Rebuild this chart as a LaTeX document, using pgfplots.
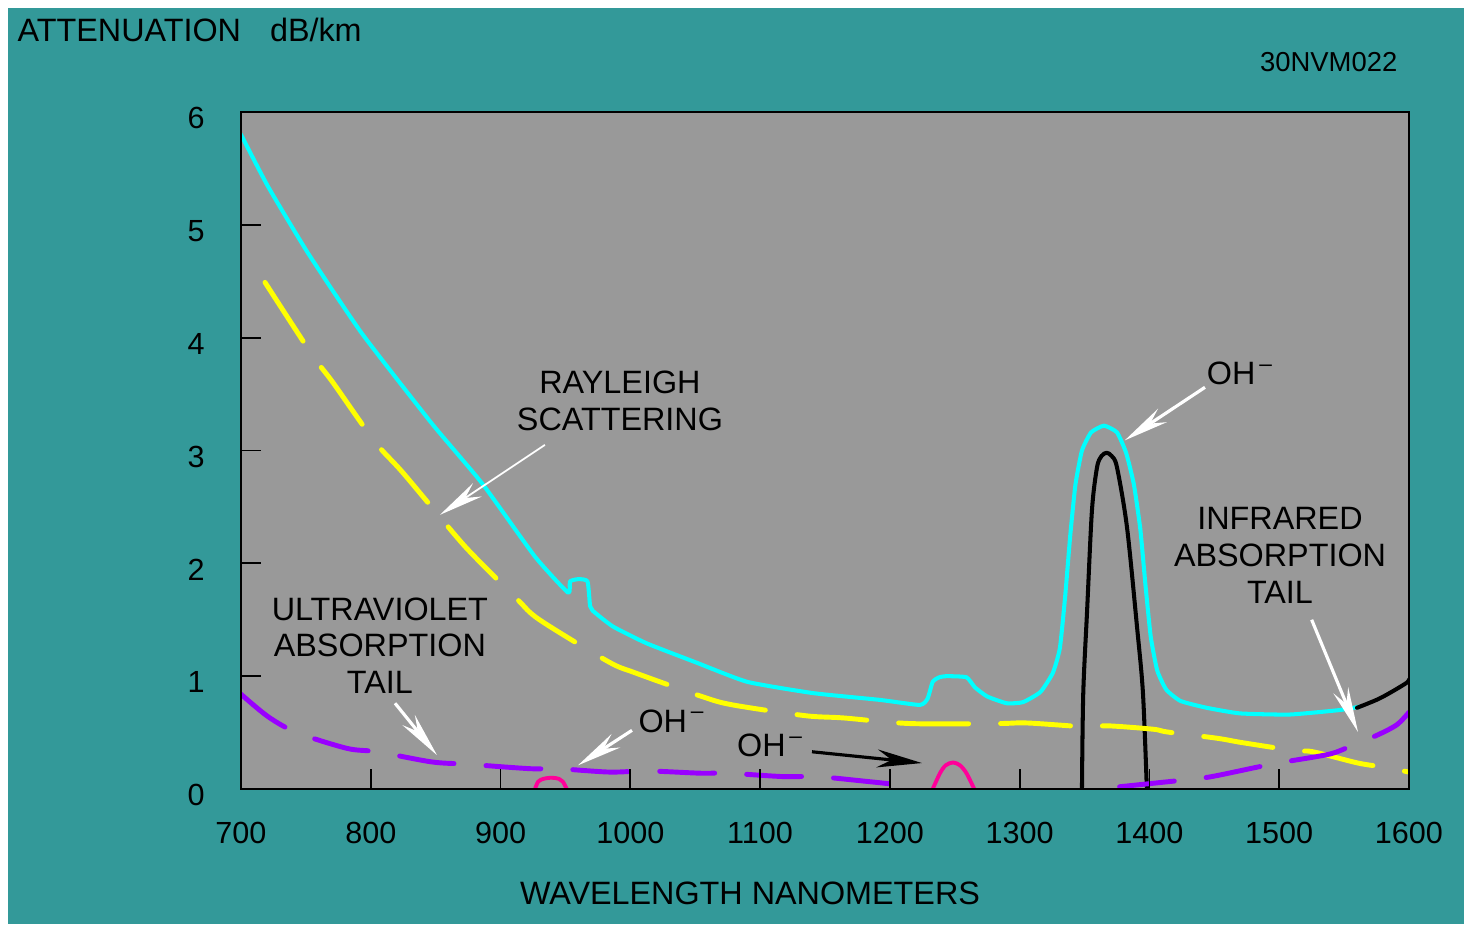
\documentclass[border=0pt]{standalone}
\usepackage{pgfplots}
\pgfplotsset{compat=1.18}
\usepackage{fontspec}
\setmainfont{Liberation Sans}
\usetikzlibrary{arrows.meta}
\definecolor{bgteal}{HTML}{339999}
\definecolor{plotgray}{HTML}{999999}
\definecolor{cyanl}{HTML}{00FFFF}
\definecolor{yell}{HTML}{FFFF00}
\definecolor{purp}{HTML}{9900FF}
\definecolor{pinkl}{HTML}{FF0099}
\tikzset{ann/.style={inner sep=0pt, align=center, font=\fontsize{9.2}{10.5}\selectfont}}
\begin{document}
\begin{tikzpicture}
\fill[white] (0,0) rectangle (146.4mm,92.4mm);
\fill[bgteal] (0.8mm,0) rectangle (146.4mm,91.6mm);
\begin{axis}[
  at={(24.1mm,13.5mm)}, anchor=south west,
  scale only axis, width=116.8mm, height=67.7mm,
  xmin=700, xmax=1600, ymin=0, ymax=6,
  axis background/.style={fill=plotgray},
  axis on top,
  axis line style={black, line width=0.8pt},
  tick pos=left, tick align=inside,
  xtick={700,800,...,1600}, ytick={0,1,...,6},
  major tick length=2mm,
  every tick/.style={black, line width=0.5pt},
  /pgf/number format/assume math mode=true,
  /pgf/number format/1000 sep={},
  tick label style={font=\fontsize{8.7}{10}\selectfont},
  xticklabel style={anchor=center, yshift=-4.4mm},
  yticklabel style={anchor=center, xshift=-4.5mm, yshift=-0.6mm},
  every axis plot/.append style={line join=round, line cap=round},
]
% Total attenuation (cyan)
\addplot[cyanl, line width=1.15pt, smooth, tension=0.3] coordinates {
(700,5.80) (720.8,5.34) (751.6,4.75) (793,4.04) (847,3.24) (885.7,2.71) (926.5,2.06)
(952,1.74) (953.5,1.84) (960,1.86) (967,1.84) (969,1.62) (971,1.58) (986.6,1.44)
(1012.8,1.29) (1051,1.12) (1090,0.95) (1140.7,0.85) (1192,0.79) (1223,0.745)
(1229,0.80) (1233,0.95) (1238,0.99) (1244,1.00) (1259,0.99) (1265.6,0.90) (1275,0.82) (1290,0.76)
(1302.6,0.77) (1316,0.86) (1325.6,1.03) (1331,1.25) (1335,1.70) (1339,2.25)
(1343,2.70) (1348,3.00) (1355,3.16) (1365,3.22) (1375,3.16) (1382,2.98) (1388,2.70)
(1393,2.30) (1397,1.80) (1401,1.35) (1406,1.05) (1413,0.88) (1424,0.78) (1444,0.72) (1469.8,0.67)
(1508,0.66) (1546.8,0.70) (1562,0.73)
};
% OH peak (black)
\addplot[black, line width=1.15pt, smooth, tension=0.5] coordinates {
(1348,0.0) (1349,0.85) (1352,1.59) (1355.7,2.47) (1359.6,2.85) (1363,2.95)
(1367,2.98) (1371,2.95) (1375,2.85) (1382.7,2.32) (1390.4,1.44) (1395,0.85) (1398,0.0)
};
% IR tail of total (black)
\addplot[black, line width=1.15pt, smooth] coordinates {
(1560,0.72) (1575,0.79) (1585,0.85) (1598,0.94) (1600,0.97)
};
% Rayleigh scattering (yellow dashed)
\addplot[yell, line width=1.4pt, dash pattern=on 7mm off 3.2mm, smooth] coordinates {
(718.5,4.49) (754.7,3.85) (771,3.60) (803,3.08) (825,2.80) (865,2.25) (880,2.06)
(913,1.68) (930,1.50) (982.8,1.13) (1003.6,1.03) (1055,0.82) (1079,0.745)
(1134.6,0.65) (1164,0.63) (1215.5,0.58) (1282.5,0.58) (1306,0.585) (1352.6,0.55)
(1368,0.56) (1402.7,0.53) (1414,0.505) (1452,0.45) (1472,0.41) (1512,0.34)
(1526,0.33) (1560.7,0.23) (1580,0.195) (1600,0.15)
};
% UV absorption tail (purple dashed)
\addplot[purp, line width=1.4pt, dash pattern=on 5.5mm off 3.2mm, smooth] coordinates {
(700,0.84) (721,0.64) (743,0.50) (781.7,0.36) (804.8,0.33) (847,0.24) (874,0.22)
(922.7,0.18) (944,0.18) (984,0.15) (1013,0.16) (1054,0.14) (1075,0.14)
(1117.6,0.11) (1143.8,0.11) (1180,0.07) (1221,0.02)
};
% IR absorption tail (purple dashed)
\addplot[purp, line width=1.4pt, dash pattern=on 5.5mm off 3.2mm, smooth] coordinates {
(1377,0.02) (1427,0.08) (1448,0.11) (1483.6,0.195) (1504,0.24) (1539,0.31)
(1557,0.39) (1576,0.48) (1590.7,0.57) (1600,0.68)
};
% small OH bumps (pink)
\addplot[pinkl, line width=1.1pt, smooth] coordinates {
(926.5,0) (929,0.065) (933,0.09) (939.4,0.10) (945,0.09) (948,0.065) (951,0)
};
\addplot[pinkl, line width=1.1pt, smooth] coordinates {
(1233,0) (1238.6,0.14) (1243,0.21) (1248.6,0.235) (1254,0.21) (1259,0.14) (1265,0)
};
% annotations
\node[ann] at (axis cs:992,3.44) {RAYLEIGH\\SCATTERING};
\node[ann] at (axis cs:807,1.27) {ULTRAVIOLET\\ABSORPTION\\TAIL};
\node[ann] at (axis cs:1500.6,2.07) {INFRARED\\ABSORPTION\\TAIL};
\node[ann] at (axis cs:1032,0.60) {OH\textsuperscript{\,–}};
\node[ann] at (axis cs:1108,0.385) {OH\textsuperscript{\,–}};
\node[ann] at (axis cs:1470,3.68) {OH\textsuperscript{\,–}};
\draw[white, line width=0.5pt, -{Stealth[length=4.5mm, width=1.6mm]}] (axis cs:934.2,3.05) -- (axis cs:853.3,2.43);
\draw[white, line width=0.9pt, -{Stealth[length=4.5mm, width=1.6mm]}] (axis cs:818.7,0.76) -- (axis cs:851,0.30);
\draw[white, line width=0.9pt, -{Stealth[length=4.5mm, width=1.6mm]}] (axis cs:1001.3,0.52) -- (axis cs:959.7,0.21);
\draw[white, line width=0.9pt, -{Stealth[length=4.5mm, width=1.6mm]}] (axis cs:1442.8,3.56) -- (axis cs:1381,3.09);
\draw[white, line width=0.9pt, -{Stealth[length=4.5mm, width=1.6mm]}] (axis cs:1525,1.50) -- (axis cs:1560.7,0.505);
\draw[black, line width=0.9pt, -{Stealth[length=4.5mm, width=1.8mm]}] (axis cs:1140,0.33) -- (axis cs:1224.7,0.23);
\end{axis}
\node[anchor=west, inner sep=0pt, font=\fontsize{9.2}{11}\selectfont] at (1.7mm,89.4mm) {ATTENUATION\hspace{2.9mm}dB/km};
\node[anchor=east, inner sep=0pt, font=\fontsize{7.8}{9}\selectfont] at (139.8mm,86.2mm) {30NVM022};
\node[inner sep=0pt, font=\fontsize{9.2}{11}\selectfont] at (75.0mm,3.1mm) {WAVELENGTH NANOMETERS};
\pgfresetboundingbox
\useasboundingbox (0,0) rectangle (146.4mm,92.4mm);
\end{tikzpicture}
\end{document}
